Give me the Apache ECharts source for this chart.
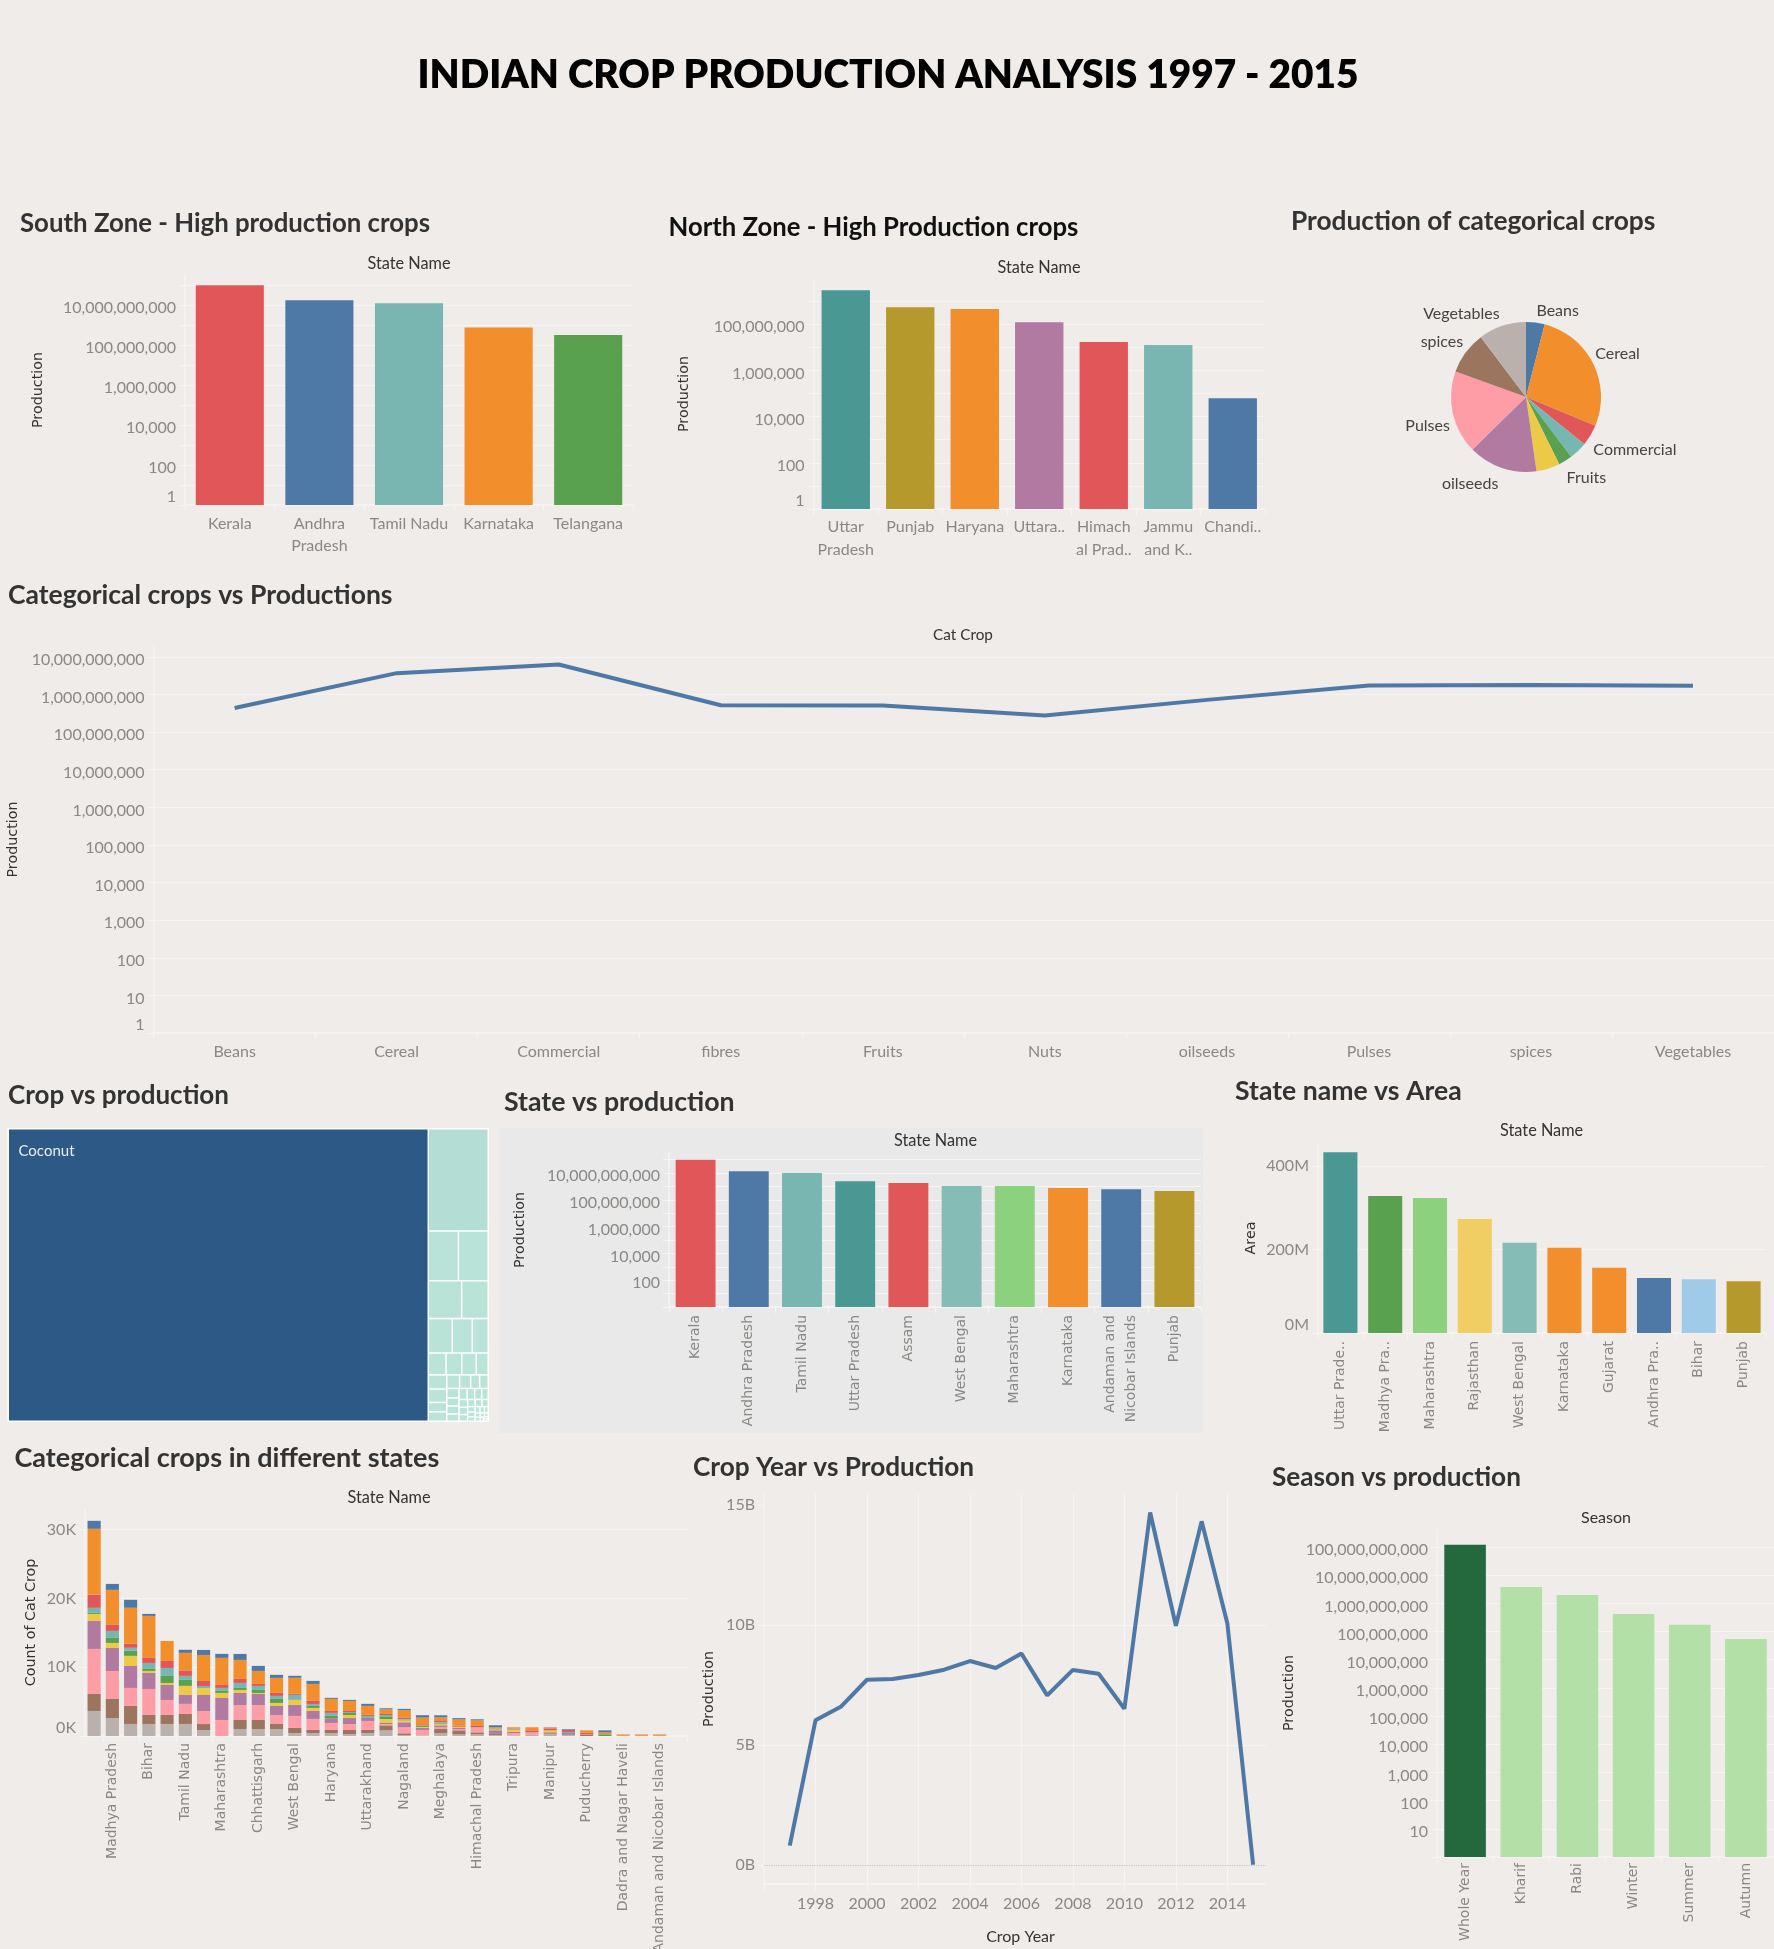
<!DOCTYPE html>
<html><head><meta charset="utf-8">
<style>html,body{margin:0;padding:0;background:#efece9}#c{width:1774px;height:1949px}</style>
<script src="https://cdn.jsdelivr.net/npm/echarts@6/dist/echarts.min.js"></script>
</head><body><div id="c"></div>
<script>
// ---------- DATA ----------
const southStates=['Kerala','Andhra\nPradesh','Tamil Nadu','Karnataka','Telangana'];
const southProduction=[97900000000,17300000000,12100000000,760000000,320000000];
const northStates=['Uttar\nPradesh','Punjab','Haryana','Uttara..','Himach\nal Prad..','Jammu\nand K..','Chandi..'];
const northProduction=[3000000000,550000000,460000000,123000000,17000000,12600000,63000];
const pieCrops=['Beans','Cereal','Commercial','fibres','Fruits','Nuts','oilseeds','Pulses','spices','Vegetables'];
const pieCounts=[9700,65900,11100,9400,7200,12300,36000,43300,22200,24900];
const catCrops=['Beans','Cereal','Commercial','fibres','Fruits','Nuts','oilseeds','Pulses','spices','Vegetables'];
const catProduction=[440000000,3700000000,6300000000,520000000,510000000,275000000,720000000,1740000000,1780000000,1700000000];
const cropNames=['Coconut','Sugarcane','Rice','Wheat','Potato','Cotton(lint)','Maize','Jute','Banana','Soyabean','Groundnut','Rapeseed','Tapioca','Onion','Jowar','Bajra','Tomato','Brinjal','Mango','Sweet potato','Ragi','Gram','Arhar','Urad','Moong','Sunflower','Castor','Barley','Turmeric','Ginger','Garlic','Chillies','Coriander','Mesta','Sesamum','Linseed','Niger','Safflower','Cabbage','Peas','Grapes','Orange','Papaya','Pineapple','Lemon','Cashewnut','Arecanut','Tobacco','Guar','Horsegram','Lentil','Small millets','Korra','Samai','Varagu'];
const cropProduction=[1104400,55056,13524,13400,11330,9020,7416,6180,4944,3498,3102,2838,2376,2352,2240,1568,1568,1554,1344,1092,1050,1040,880,880,800,800,750,700,650,600,560,520,480,440,400,360,320,300,280,250,220,200,180,160,140,120,100,90,80,70,60,50,40,30,20];
const topStates=['Kerala','Andhra Pradesh','Tamil Nadu','Uttar Pradesh','Assam','West Bengal','Maharashtra','Karnataka','Andaman and\nNicobar Islands','Punjab'];
const topProduction=[97900000000,14000000000,10000000000,2500000000,1800000000,1070000000,1070000000,760000000,630000000,450000000];
const areaStates=['Uttar Prade..','Madhya Pra..','Maharashtra','Rajasthan','West Bengal','Karnataka','Gujarat','Andhra Pra..','Bihar','Punjab'];
const areaValues=[433,328,323,273,216,204,156,132,129,124];
const stackStates=['Uttar Pradesh','Madhya Pradesh','Karnataka','Bihar','Assam','Tamil Nadu','Odisha','Maharashtra','Rajasthan','Chhattisgarh','Andhra Pradesh','West Bengal','Gujarat','Haryana','Telangana','Uttarakhand','Kerala','Nagaland','Punjab','Meghalaya','Arunachal Pradesh','Himachal Pradesh','Jammu and Kashmir','Tripura','Mizoram','Manipur','Sikkim','Puducherry','Goa','Dadra and Nagar Haveli','Lakshadweep','Andaman and Nicobar Islands','Chandigarh'];
const stackVegetables=[3640,2620,1750,1750,1750,1750,870,0,1020,1020,1020,440,440,440,290,440,820,150,100,390,240,240,150,100,150,340,150,0,0,30,30,30,0];
const stackSpices=[2470,2760,2620,1310,1310,1460,870,0,1310,1310,730,730,440,440,580,440,730,240,0,630,580,290,240,0,0,190,100,240,0,0,0,0,0];
const stackPulses=[6550,4070,2620,3780,2180,1460,1890,2330,2180,2180,1310,1750,1600,1020,870,1310,190,870,780,240,150,630,0,340,390,0,0,50,0,0,0,0,0];
const stackOilseeds=[4070,3350,3200,2330,2180,1310,2330,3200,1750,1600,1310,1600,1160,680,870,440,150,730,290,290,190,100,440,150,0,0,190,0,0,0,0,0,0];
const stackNuts=[1020,730,1460,290,290,1310,1020,730,440,150,440,730,440,0,440,0,580,290,150,240,190,50,100,290,0,290,0,0,0,0,0,0,0];
const stackFruits=[150,730,730,290,1020,870,0,290,290,440,580,0,290,340,290,0,290,100,190,150,0,0,50,0,0,0,0,0,240,0,0,0,0];
const stackFibres=[730,1020,440,870,1160,580,290,440,730,580,440,730,290,440,150,290,290,100,50,100,0,0,50,100,0,0,150,0,0,0,0,0,0];
const stackCommercial=[1890,870,580,730,1020,730,730,440,580,290,440,150,440,290,150,150,150,150,150,240,190,240,50,100,290,290,290,190,0,0,0,0,0];
const stackCereal=[9600,5090,5240,6110,2910,2620,3780,3930,2760,1890,2180,2330,2470,1750,1460,1310,680,1120,970,440,870,730,190,190,440,100,0,340,290,200,200,200,0];
const stackBeans=[1160,870,1160,290,0,440,730,580,870,730,440,290,440,150,150,290,150,190,340,290,190,150,290,0,0,50,100,0,290,0,0,0,0];
const years=[1997,1998,1999,2000,2001,2002,2003,2004,2005,2006,2007,2008,2009,2010,2011,2012,2013,2014,2015];
const yearProduction=[0.81,6.03,6.61,7.72,7.75,7.92,8.14,8.5,8.21,8.81,7.07,8.13,7.97,6.51,14.69,9.97,14.32,10.06,0.01];
const seasons=['Whole Year','Kharif','Rabi','Winter','Summer','Autumn'];
const seasonProduction=[120000000000,3800000000,2000000000,420000000,175000000,55000000];

// ---------- STYLE ----------
const southColors=['#E15759','#4E79A7','#79B6B1','#F28E2B','#59A14F'];
const northColors=['#499894','#B6992D','#F28E2B','#B07AA1','#E15759','#79B6B1','#4E79A7'];
const pieColors=['#4E79A7','#F28E2B','#E15759','#76B7B2','#59A14F','#EDC948','#B07AA1','#FF9DA7','#9C755F','#BAB0AC'];
const pieLabelNudge=[[-6,-4],[-11,-6],[-10,10],[0,0],[-9,10],[0,0],[5,8],[11,11],[10,-6],[6,-4]];
const topColors=['#E15759','#4E79A7','#79B6B1','#499894','#E15759','#86BCB6','#8CD17D','#F28E2B','#4E79A7','#B6992D'];
const areaColors=['#499894','#59A14F','#8CD17D','#F1CE63','#86BCB6','#F28E2B','#F28E2B','#4E79A7','#A0CBE8','#B6992D'];
const seasonColors=['#24693D','#B3E0A6','#B3E0A6','#B3E0A6','#B3E0A6','#B3E0A6'];
const FF='Lato, "Open Sans", sans-serif';
const WF='"DejaVu Sans", sans-serif';
const GRID='#f6f5f3', LBL='#8a8886';
const GRIDW=1.2;
const nameStyle={color:'#333',fontFamily:WF,fontSize:14.3};

const grids=[],xAxes=[],yAxes=[],series=[];
function addGrid(l,t,r,b){grids.push({left:l,top:t,width:r-l,height:b-t,containLabel:false,outerBoundsMode:'none'});return grids.length-1;}
const splitLine={show:true,lineStyle:{color:GRID,width:GRIDW}};
const axisLine={show:true,onZero:false,lineStyle:{color:GRID,width:1.5}};
const axisTick={show:true,length:6,lineStyle:{color:GRID,width:1.2}};
function catAxis(g,data,opt={}){
  xAxes.push(Object.assign({type:'category',gridIndex:g,data,axisLine,axisTick,splitLine:{show:false},
    axisLabel:Object.assign({color:LBL,fontFamily:FF,fontSize:16,interval:0,lineHeight:22,margin:8,hideOverlap:false},opt.label||{})},opt.axis||{}));
  return xAxes.length-1;
}
function logFmt(step,hideOne){return v=>{
  const e=Math.log10(v),r=Math.round(e);
  if(Math.abs(e-r)>1e-6||r%step!==0)return'';
  if(hideOne&&r===0)return'';
  const s=Number(Math.pow(10,r)).toLocaleString('en-US');
  return r===0?s:'{a|'+s+'}';};}
function logAxis(g,maxExp,step,hideOne,name,gap){
  yAxes.push({type:'log',logBase:10,gridIndex:g,min:1,max:Math.pow(10,maxExp),splitNumber:40,interval:1,
    name,nameLocation:'middle',nameGap:gap,nameTextStyle:nameStyle,
    axisLine,axisTick,splitLine:Object.assign({showMaxLine:false,showMinLine:false},splitLine),
    axisLabel:{color:LBL,fontFamily:FF,fontSize:16,margin:9,formatter:logFmt(step,hideOne),showMaxLabel:false,verticalAlignMinLabel:'bottom',
      rich:{a:{color:LBL,fontFamily:FF,fontSize:16,padding:[6,0,0,0]}}}});
  return yAxes.length-1;
}
function barSeries(g,values,colors,widthGap){
  series.push({type:'bar',xAxisIndex:g,yAxisIndex:g,barCategoryGap:widthGap,silent:true,
    data:values.map((v,i)=>({value:v,itemStyle:{color:colors[i]}}))});
}
const rotLabel={rotate:90,lineHeight:21,margin:8,fontFamily:WF,fontSize:14};

// 0 South
let g=addGrid(185,275,633,505);
catAxis(g,southStates);logAxis(g,11.5,2,false,'Production',140);
barSeries(g,southProduction,southColors,'24%');
// 1 North
g=addGrid(813.5,279,1265,509);
catAxis(g,northStates,{label:{lineHeight:23,margin:6}});logAxis(g,9.96,2,false,'Production',122);
barSeries(g,northProduction,northColors,'25%');
// 2 Categorical line
g=addGrid(153.6,646,1774,1033);
catAxis(g,catCrops,{label:{margin:8}});logAxis(g,10.29,1,false,'Production',131);
series.push({type:'line',xAxisIndex:g,yAxisIndex:g,data:catProduction,symbol:'none',silent:true,lineStyle:{color:'#4E79A7',width:4}});
// 3 State vs production
g=addGrid(669,1153,1201,1307);
catAxis(g,topStates,{label:rotLabel});logAxis(g,11.5,2,true,'Production',142);
barSeries(g,topProduction,topColors,'25%');
// 4 State vs Area
g=addGrid(1318,1143,1766,1333);
catAxis(g,areaStates,{label:rotLabel});
yAxes.push({type:'value',gridIndex:g,min:0,max:455,interval:200,name:'Area',nameLocation:'middle',nameGap:60,
  nameTextStyle:nameStyle,axisLine,axisTick,
  splitLine:Object.assign({showMinLine:false,showMaxLine:false},splitLine),
  axisLabel:{color:LBL,fontFamily:FF,fontSize:16,margin:9,showMaxLabel:false,verticalAlignMinLabel:'bottom',formatter:v=>v%200===0?v+'M':''}});
barSeries(g,areaValues,areaColors,'24%');
// 5 Stacked
g=addGrid(85,1509,687,1736);
catAxis(g,stackStates,{label:Object.assign({},rotLabel,{interval:i=>i%2===1,fontSize:14,margin:7})});
yAxes.push({type:'value',gridIndex:g,min:0,max:33000,interval:10000,name:'Count of Cat Crop',nameLocation:'middle',nameGap:47,
  nameTextStyle:nameStyle,axisLine,axisTick,
  splitLine:Object.assign({showMinLine:false,showMaxLine:false},splitLine),
  axisLabel:{color:LBL,fontFamily:FF,fontSize:16,margin:9,showMaxLabel:false,verticalAlignMinLabel:'bottom',formatter:v=>(v%10000===0)?(v/1000)+'K':''}});
[['Vegetables',stackVegetables,'#BAB0AC'],['spices',stackSpices,'#9C755F'],['Pulses',stackPulses,'#FF9DA7'],['oilseeds',stackOilseeds,'#B07AA1'],
 ['Nuts',stackNuts,'#EDC948'],['Fruits',stackFruits,'#59A14F'],['fibres',stackFibres,'#76B7B2'],['Commercial',stackCommercial,'#E15759'],
 ['Cereal',stackCereal,'#F28E2B'],['Beans',stackBeans,'#4E79A7']].forEach(([n,d,c])=>{
  series.push({type:'bar',name:n,stack:'s',xAxisIndex:g,yAxisIndex:g,data:d,barCategoryGap:'28%',silent:true,itemStyle:{color:c}});
});
// 6 Crop year
g=addGrid(764,1494,1266,1884);
xAxes.push({type:'value',gridIndex:g,min:1996,max:2015.5,interval:2,axisLine,axisTick,
  splitLine:Object.assign({showMinLine:false,showMaxLine:false},splitLine),
  axisLabel:{color:LBL,fontFamily:FF,fontSize:16,margin:12,showMaxLabel:false,formatter:v=>(v>=1998&&v%2===0)?String(v):''}});
yAxes.push({type:'value',gridIndex:g,min:-0.79,max:15.46,name:'Production',nameLocation:'middle',nameGap:48,
  nameTextStyle:nameStyle,axisLine,
  axisTick:Object.assign({},axisTick,{customValues:[0,5,10,15]}),
  splitLine:Object.assign({showMinLine:false,showMaxLine:false},splitLine),
  axisLabel:{color:LBL,fontFamily:FF,fontSize:16,margin:9,customValues:[0,5,10,15],formatter:v=>v+'B'}});
series.push({type:'line',xAxisIndex:g,yAxisIndex:g,data:years.map((y,i)=>[y,yearProduction[i]]),symbol:'none',silent:true,
  lineStyle:{color:'#4E79A7',width:4},
  markLine:{silent:true,symbol:'none',label:{show:false},lineStyle:{color:'#c4c2bf',type:'dotted',width:1.2},data:[{yAxis:0}]}});
// 7 Season
g=addGrid(1437,1529,1774,1857);
catAxis(g,seasons,{label:Object.assign({},rotLabel,{margin:6})});logAxis(g,11.64,1,true,'Production',141);
barSeries(g,seasonProduction,seasonColors,'26%');

// Pie
series.push({type:'pie',center:[1526,397],radius:75,startAngle:90,clockwise:true,silent:true,animation:false,
  label:{show:true,position:'outside',color:'#444',fontFamily:FF,fontSize:16,distanceToLabelLine:2},
  labelLine:{show:false,length:8,length2:4},
  labelLayout:p=>({dx:pieLabelNudge[p.dataIndex][0],dy:pieLabelNudge[p.dataIndex][1]}),
  data:pieCrops.map((n,i)=>({name:n,value:pieCounts[i],itemStyle:{color:pieColors[i]},
    label:{show:!(n==='fibres'||n==='Nuts')}}))});
// Treemap
series.push({type:'treemap',left:7.5,top:1128,width:481.5,height:294,roam:false,nodeClick:false,silent:true,breadcrumb:{show:false},
  squareRatio:1.3,
  label:{show:false},
  itemStyle:{borderColor:'#fff',borderWidth:0,gapWidth:1.5},
  levels:[{color:['#bbe4d9','#2c5985'],colorMappingBy:'value',itemStyle:{borderColor:'#fff',borderWidth:1.5,gapWidth:1.5}}],
  data:cropNames.map((n,i)=>({name:n,value:cropProduction[i],
    label:i===0?{show:true,position:[4.5,9.5],color:'#e8eef3',fontFamily:FF,fontSize:15}:{show:false}}))});

// Text
function t(text,x,y,size,weight,fill,align){return {type:'text',z:50,x,y,silent:true,
  style:{text,fontFamily:FF,fontSize:size,fontWeight:weight,fill,align:align||'left',verticalAlign:'middle'}};}
const TT='#333', HW=700;
const graphic=[
 {type:'rect',z:-10,silent:true,shape:{x:499,y:1128,width:704,height:305},style:{fill:'#e9e9e9'}},
 t('INDIAN CROP PRODUCTION ANALYSIS 1997 - 2015',888,75,38.8,800,'#000','center'),
 t('South Zone - High production crops',20,224,25.8,HW,TT),
 t('North Zone - High Production crops',668.5,228,25.7,HW,'#111'),
 t('Production of categorical crops',1291,222,26.3,HW,TT),
 t('Categorical crops vs Productions',8,595,26.5,HW,TT),
 t('Crop vs production',8,1096,26,HW,TT),
 t('State vs production',504,1102,26.7,HW,TT),
 t('State name vs Area',1235,1091,26.6,HW,TT),
 t('Categorical crops in different states',14.5,1458,27,HW,TT),
 t('Crop Year vs Production',693,1468,26.2,HW,TT),
 t('Season vs production',1272,1478,26.2,HW,TT),
 t('State Name',409,264,16.3,400,'#333','center'),
 t('State Name',1039,268,16.3,400,'#333','center'),
 t('Cat Crop',963,635,15.3,400,'#333','center'),
 t('State Name',935.5,1141,16.3,400,'#333','center'),
 t('State Name',1541.6,1131,16.3,400,'#333','center'),
 t('State Name',389,1498,16.3,400,'#333','center'),
 t('Season',1606,1518,16,400,'#333','center'),
 t('Crop Year',1020.5,1937,16,400,'#333','center'),
];
const chart=echarts.init(document.getElementById('c'),null,{renderer:'canvas',width:1774,height:1949});
chart.setOption({animation:false,backgroundColor:'#efece9',tooltip:{show:false},grid:grids,xAxis:xAxes,yAxis:yAxes,series,graphic});
</script></body></html>
